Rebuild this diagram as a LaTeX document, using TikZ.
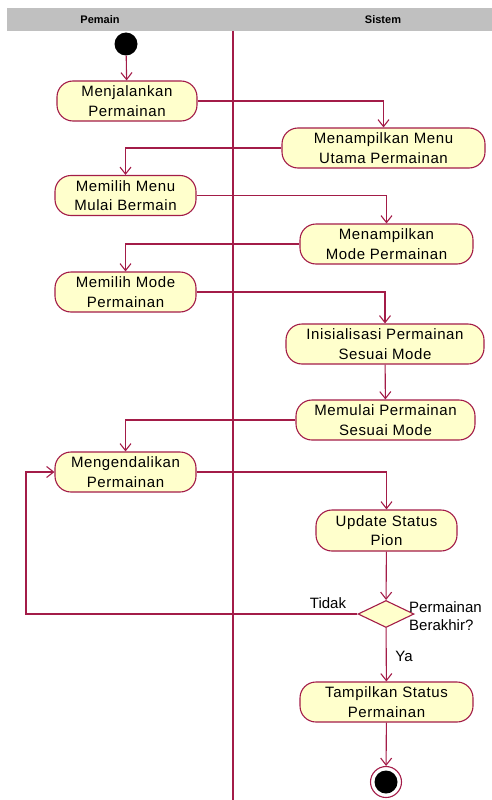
\documentclass[tikz,border=0pt]{standalone}
\usepackage{fontspec}
\setmainfont{Liberation Sans}
\newfontfamily\actfont[LetterSpace=4]{Liberation Sans}
\usetikzlibrary{arrows.meta,shapes.geometric,positioning}
\definecolor{umlred}{RGB}{163,28,72}
\definecolor{umlfill}{RGB}{255,255,204}
\definecolor{lanegray}{RGB}{192,192,192}
\begin{document}
\begin{tikzpicture}[x=1pt,y=-1pt,
  act/.style={draw=umlred, fill=umlfill, line width=1.1pt, rounded corners=16pt,
    minimum height=40pt, inner sep=0pt, align=center,
    font=\actfont\fontsize{15}{19.5}\selectfont},
  flow/.style={draw=umlred, line width=1.1pt, -{Straight Barb[length=7pt,width=11pt]}},
  lbl/.style={inner sep=0pt, font=\fontsize{15}{19}\selectfont},
  lane/.style={font=\bfseries\fontsize{11}{13}\selectfont}]
\useasboundingbox (0,0) rectangle (492,800);
% header
\fill[lanegray] (7,8) rectangle (492,31);
\node[lane] (hp) at (100,19.5) {Pemain};
\node[lane] (hs) at (383,19.5) {Sistem};
\draw[umlred, line width=1.1pt] (233,31) -- (233,800);
% start
\node[circle, fill=black, minimum size=23pt, inner sep=0pt] (start) at (126,44) {};
% activities
\node[act, minimum width=140pt] (n1) at (127,101) {Menjalankan\\Permainan};
\node[act, minimum width=203pt] (n2) at (383.5,148) {Menampilkan Menu\\Utama Permainan};
\node[act, minimum width=141pt] (n3) at (125.5,195.5) {Memilih Menu\\Mulai Bermain};
\node[act, minimum width=173pt] (n4) at (386.5,244) {Menampilkan\\Mode Permainan};
\node[act, minimum width=141pt] (n5) at (125.5,292) {Memilih Mode\\Permainan};
\node[act, minimum width=198pt] (n6) at (385,344) {Inisialisasi Permainan\\Sesuai Mode};
\node[act, minimum width=179pt] (n7) at (385.5,420) {Memulai Permainan\\Sesuai Mode};
\node[act, minimum width=141pt] (n8) at (125.5,472) {Mengendalikan\\Permainan};
\node[act, minimum width=141pt, minimum height=41pt] (n9) at (386.5,530.5) {Update Status\\Pion};
\node[diamond, draw=umlred, fill=umlfill, line width=1.1pt, minimum width=56pt, minimum height=27pt, inner sep=0pt] (d) at (386,614) {};
\node[act, minimum width=173pt] (n10) at (386.5,702) {Tampilkan Status\\Permainan};
% end
\node[circle, draw=umlred, fill=white, line width=1.1pt, minimum size=31pt, inner sep=0pt] (endo) at (386,782) {};
\node[circle, fill=black, minimum size=23pt, inner sep=0pt] (endi) at (386,782) {};
% labels
\node[lbl] (tidak) at (328,603) {Tidak};
\node[lbl, align=left, anchor=west, font=\fontsize{15}{18.5}\selectfont] (q) at (409,616) {Permainan\\Berakhir?};
\node[lbl] (ya) at (404,656) {Ya};
% connectors
\coordinate (loop) at (26,614);
\draw[flow] (start) -- (n1);
\draw[flow] (n1.east) -| (n2.north);
\draw[flow] (n2.west) -| (n3.north);
\draw[flow] (n3.east) -| (n4.north);
\draw[flow] (n4.west) -| (n5.north);
\draw[flow] (n5.east) -| (n6.north);
\draw[flow] (n6) -- (n7);
\draw[flow] (n7.west) -| (n8.north);
\draw[flow] (n8.east) -| (n9.north);
\draw[flow] (n9) -- (d);
\draw[flow] (d.west) -- (loop) |- (n8.west);
\draw[flow] (d) -- (n10);
\draw[flow] (n10) -- (endo);
\end{tikzpicture}
\end{document}
